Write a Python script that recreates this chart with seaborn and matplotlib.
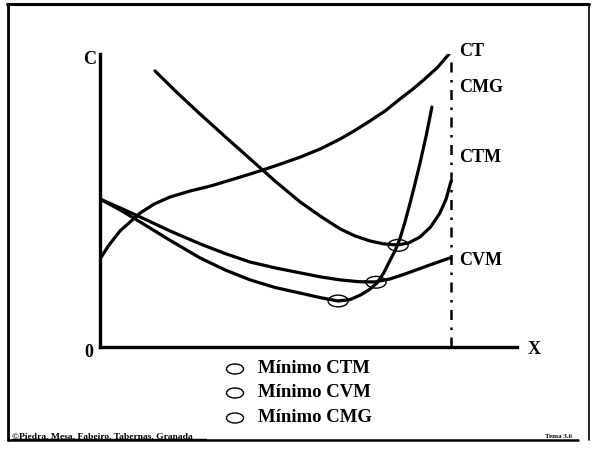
import numpy as np
import pandas as pd
import matplotlib
matplotlib.use("Agg")
import matplotlib.pyplot as plt
from matplotlib.patches import Ellipse
import seaborn as sns

# curve values (x = quantity, y = cost, both 0..10)
ct_x = [0, 0.2, 0.48, 0.96, 1.3, 1.68, 2.15, 2.64, 3.25, 3.84, 4.3, 4.80,
        5.3, 5.76, 6.1, 6.47, 6.85, 7.19, 7.5, 7.79, 8.1, 8.37]
ct_y = [3.00, 3.45, 3.96, 4.57, 4.88, 5.12, 5.32, 5.49, 5.75, 6.01, 6.23,
        6.48, 6.77, 7.10, 7.38, 7.71, 8.07, 8.46, 8.8, 9.15, 9.55, 10.0]

ctm_x = [1.32, 1.85, 2.40, 3.0, 3.60, 4.2, 4.80, 5.3, 5.76, 6.1, 6.47, 6.8,
         7.12, 7.4, 7.67, 7.93, 8.15, 8.3, 8.42]
ctm_y = [9.42, 8.68, 7.95, 7.18, 6.42, 5.66, 4.95, 4.45, 4.03, 3.80, 3.62,
         3.52, 3.48, 3.55, 3.75, 4.10, 4.57, 5.05, 5.67]

cvm_x = [0, 0.48, 0.96, 1.68, 2.40, 3.0, 3.60, 4.2, 4.80, 5.3, 5.76, 6.2,
         6.59, 6.95, 7.31, 7.62, 7.91, 8.15, 8.39]
cvm_y = [5.05, 4.75, 4.44, 3.96, 3.52, 3.19, 2.90, 2.70, 2.53, 2.39, 2.29,
         2.23, 2.22, 2.32, 2.49, 2.65, 2.80, 2.92, 3.04]

cmg_x = [0, 0.48, 0.96, 1.68, 2.40, 3.0, 3.60, 4.2, 4.80, 5.3, 5.71, 6.0,
         6.24, 6.45, 6.64, 6.8, 6.95, 7.08, 7.19, 7.31, 7.43, 7.55, 7.67,
         7.82, 7.96]
cmg_y = [5.05, 4.68, 4.27, 3.64, 3.04, 2.63, 2.29, 2.03, 1.84, 1.68, 1.57,
         1.62, 1.77, 1.95, 2.18, 2.52, 2.94, 3.30, 3.69, 4.25, 4.88, 5.55,
         6.25, 7.20, 8.19]

# minimum points (CMG, CVM, CTM)
min_x = [5.71, 6.62, 7.15]
min_y = [1.57, 2.21, 3.47]

x_max = 8.42
curve_names = ["CT", "CMG", "CTM", "CVM"]
legend_labels = ["Mínimo CTM", "Mínimo CVM", "Mínimo CMG"]

sns.set_style("white")
plt.rcParams["font.family"] = ["Liberation Serif", "DejaVu Serif"]
plt.rcParams["text.color"] = "black"

fig = plt.figure(figsize=(5.96, 4.52), dpi=100)

# background axes in pixel units for frame, legend and footer
bg = fig.add_axes([0, 0, 1, 1])
bg.set_xlim(0, 596)
bg.set_ylim(452, 0)
bg.axis("off")
bg.plot([7, 589], [5, 5], color="black", lw=2.2)
bg.plot([8, 8], [5, 441], color="black", lw=2.0)
bg.plot([589, 589], [5, 441], color="black", lw=1.2)
bg.plot([8, 578], [441, 441], color="black", lw=1.8)

ax = fig.add_axes([100 / 596, 104 / 452, 417 / 596, 293 / 452])
ax.set_xlim(0, 10)
ax.set_ylim(0, 10)
ax.patch.set_alpha(0)
sns.despine(ax=ax)
for s in ["left", "bottom"]:
    ax.spines[s].set_linewidth(2.4)
    ax.spines[s].set_color("black")
ax.set_xticks([])
ax.set_yticks([])

lw = 2.3
curves = pd.DataFrame({
    "x": ct_x + ctm_x + cvm_x + cmg_x,
    "y": ct_y + ctm_y + cvm_y + cmg_y,
    "curva": ["CT"] * len(ct_x) + ["CTM"] * len(ctm_x)
    + ["CVM"] * len(cvm_x) + ["CMG"] * len(cmg_x),
})
for name, g in curves.groupby("curva"):
    sns.lineplot(data=g, x="x", y="y", sort=False, color="black",
                 lw=lw, ax=ax, legend=False, solid_joinstyle="round",
                 solid_capstyle="round")

ax.plot([x_max, x_max], [0, 9.83], color="black", lw=1.8,
        linestyle=(0, (4, 3, 1, 3)))

for mx, my in zip(min_x, min_y):
    ax.add_patch(Ellipse((mx, my), 0.48, 0.40, fill=False,
                         edgecolor="black", lw=1.0))

ax.set_xlabel("")
ax.set_ylabel("")

bold = dict(fontweight="bold", fontsize=13, color="black")
bg.text(83, 60, "C", ha="left", va="center", **bold)
bg.text(84, 353, "0", ha="left", va="center", **bold)
bg.text(528, 350, "X", ha="left", va="center", **bold)
label_y = [52, 87, 158, 261]
for name, ly in zip(curve_names, label_y):
    bg.text(459, ly, name, ha="left", va="center", **bold)

leg_y = [369, 393, 418]
for lab, ly in zip(legend_labels, leg_y):
    bg.add_patch(Ellipse((235, ly + 1), 17, 10, fill=False,
                         edgecolor="black", lw=1.0))
    bg.text(258, ly, lab, ha="left", va="center", fontsize=13.5,
            fontweight="semibold", color="black")

bg.text(12, 436, "©Piedra, Mesa, Fabeiro, Tabernas, Granada", ha="left",
        va="center", fontsize=6.8, fontweight="bold", color="black")
bg.plot([12, 206], [440, 440], color="black", lw=1.0)
bg.text(572, 437, "Tema 3.6", ha="right", va="center", fontsize=5,
        fontweight="bold", color="black")

fig.savefig("out.png", dpi=100)
